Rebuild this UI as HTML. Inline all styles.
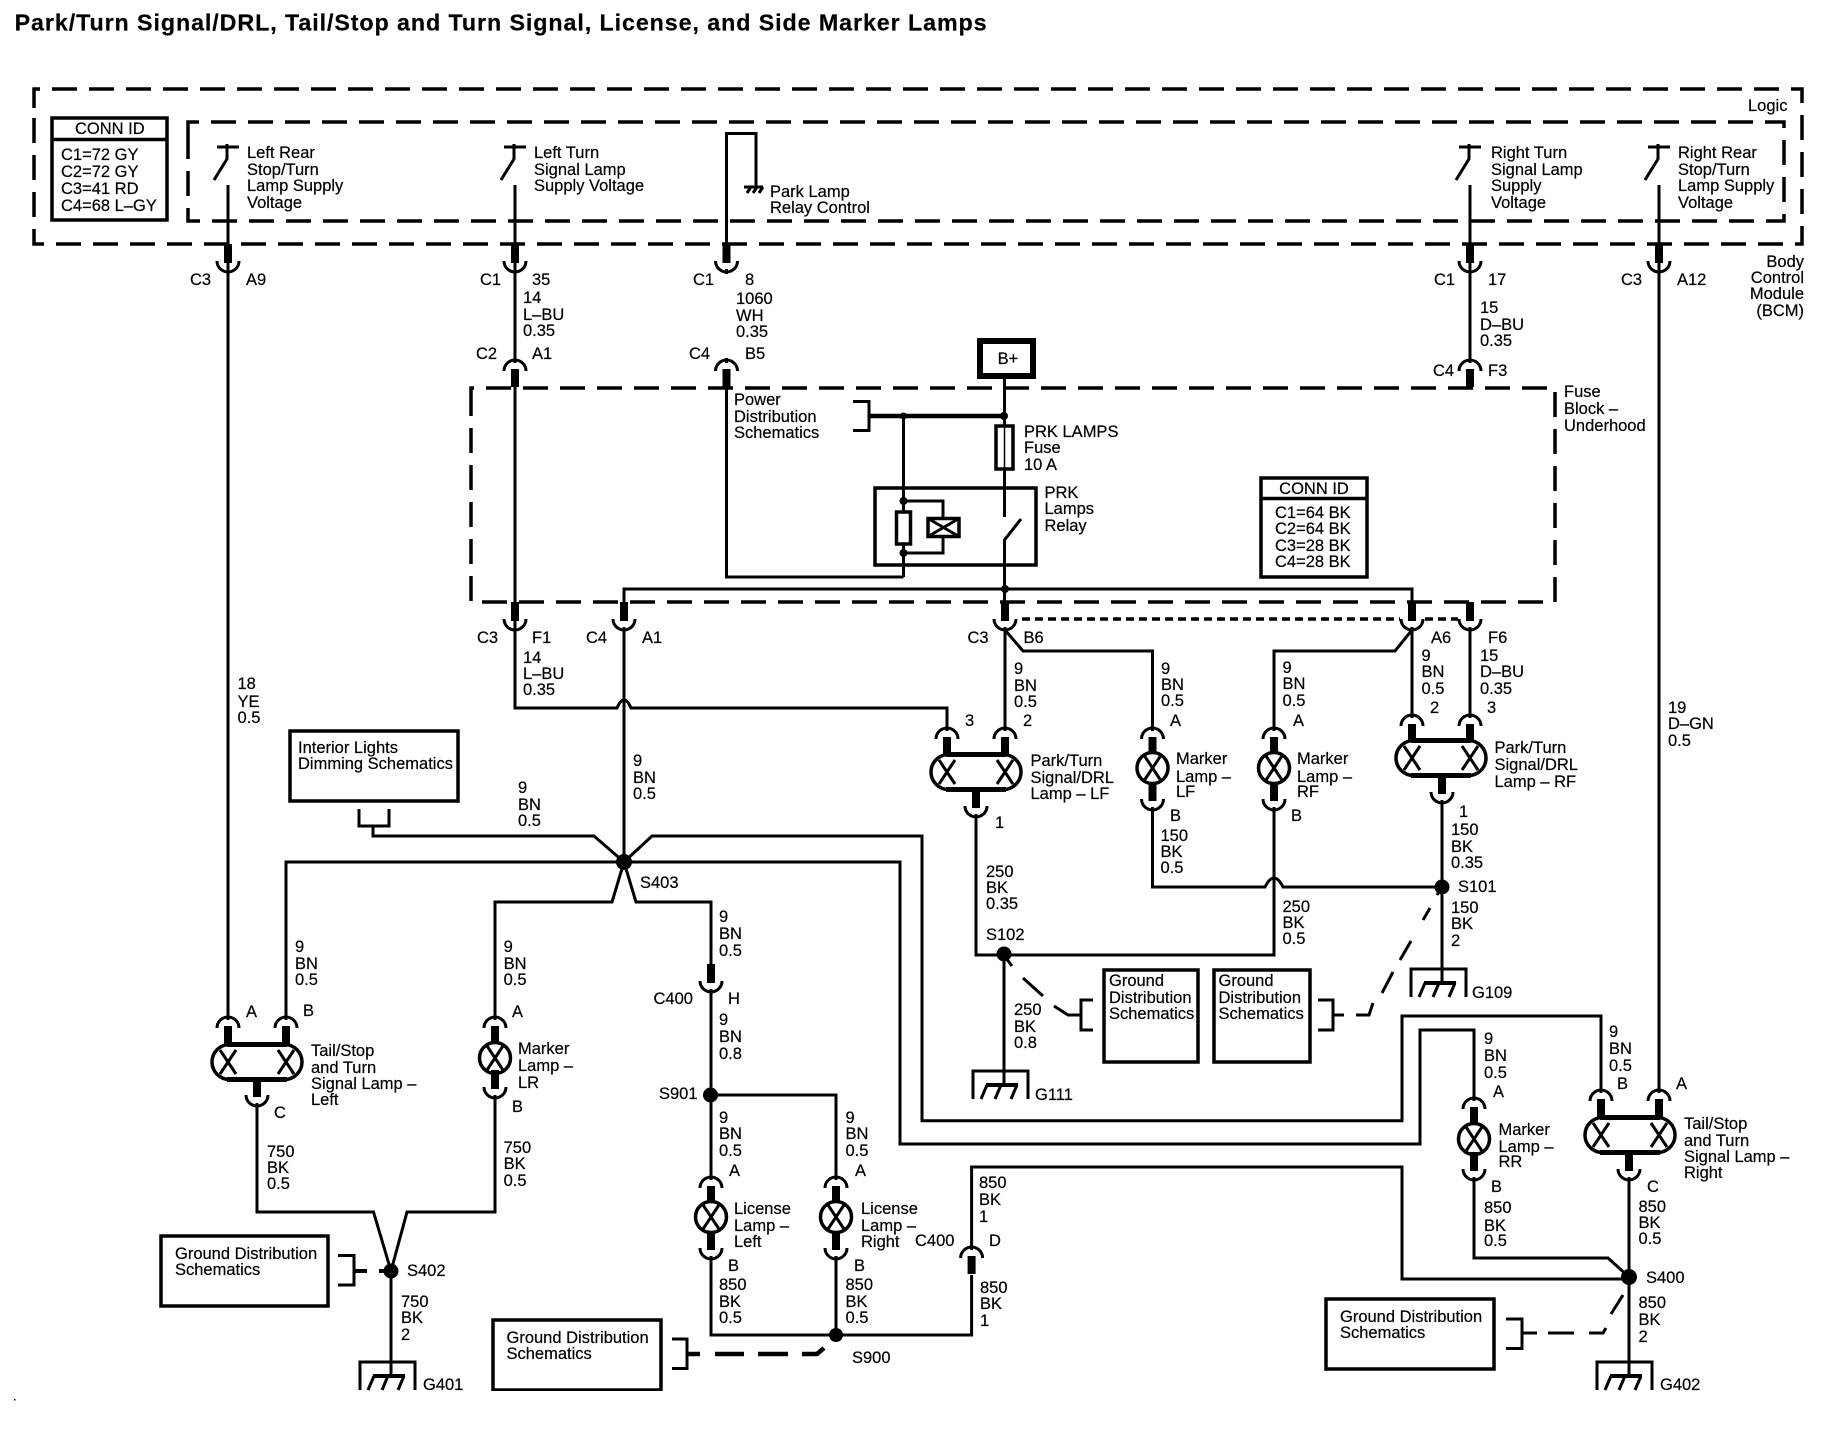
<!DOCTYPE html>
<html><head><meta charset="utf-8"><title>Park/Turn Signal Schematic</title>
<style>
html,body{margin:0;padding:0;background:#fff;width:1830px;height:1440px;overflow:hidden}
svg{display:block}
text{font-family:"Liberation Sans",sans-serif;font-size:16.5px;fill:#000;stroke:#000;stroke-width:.2}
.w{fill:none;stroke:#000;stroke-width:3}
.d{fill:none;stroke:#000;stroke-width:3.5;stroke-dasharray:25 12}
.b{fill:#fff;stroke:#000;stroke-width:3.5}
</style></head><body>
<svg xmlns="http://www.w3.org/2000/svg" width="1830" height="1440" viewBox="0 0 1830 1440">
<defs>
<g id="cup"><path class="w" d="M-11-11C-11-4-5 0 0 0C5 0 11-4 11-11"/><path d="M0-28V-9" stroke="#000" stroke-width="8"/><path d="M0-3V2" stroke="#000" stroke-width="3"/></g>
<g id="cap"><path class="w" d="M-11 11C-11 4-5 0 0 0C5 0 11 4 11 11"/><path d="M0 9V27" stroke="#000" stroke-width="8"/><path d="M0-2V3" stroke="#000" stroke-width="3"/></g>
<g id="lamp"><rect x="-45" y="-17.5" width="90" height="35" rx="17.5" fill="#fff" stroke="#000" stroke-width="3.5"/><path d="M-30-17.5H30M-30 17.5H30" stroke="#000" stroke-width="5"/><path class="w" d="M-37-12L-21 12M-21-12L-37 12M21-12L37 12M37-12L21 12"/></g>
<g id="mark"><circle r="15.5" fill="#fff" stroke="#000" stroke-width="3.5"/><path class="w" d="M-8-12L8 12M8-12L-8 12"/></g>
<g id="gnd"><path class="w" d="M-31 14V-14H24V14" stroke-width="3.5"/><path d="M-18 0H14" stroke="#000" stroke-width="4"/><path class="w" d="M-17 0L-23 14M-3 0L-9 14M13 0L7 14"/></g>
<g id="sw"><path class="w" d="M-11 0H11M-1-3V12L-14 33"/></g>
</defs>

<text x="14.6" y="30.5" style="font-size:23.25px;font-weight:bold" textLength="972" lengthAdjust="spacing">Park/Turn Signal/DRL, Tail/Stop and Turn Signal, License, and Side Marker Lamps</text>

<!-- dashed boundaries -->
<path class="d" d="M34 108V89H1802V244H34V108"/>
<path class="d" d="M188 136V122H1784V221H188V136"/>
<path class="d" d="M471 410V388H1555V602H471V410"/>

<!-- BCM conn id -->
<rect class="b" x="52" y="118" width="115" height="102"/><path d="M52 139.5H167" stroke="#000" stroke-width="3.5"/>
<text x="75" y="134">CONN ID</text>
<text x="61" y="160">C1=72 GY</text><text x="61" y="177">C2=72 GY</text><text x="61" y="194">C3=41 RD</text><text x="61" y="211">C4=68 L–GY</text>
<text x="1748" y="111">Logic</text>

<!-- switches -->
<use href="#sw" x="228" y="147"/><use href="#sw" x="515" y="147"/><use href="#sw" x="1470" y="147"/><use href="#sw" x="1659" y="147"/>
<text x="247" y="158">Left Rear</text><text x="247" y="175">Stop/Turn</text><text x="247" y="191">Lamp Supply</text><text x="247" y="208">Voltage</text>
<text x="534" y="158">Left Turn</text><text x="534" y="175">Signal Lamp</text><text x="534" y="191">Supply Voltage</text>
<text x="1491" y="158">Right Turn</text><text x="1491" y="175">Signal Lamp</text><text x="1491" y="191">Supply</text><text x="1491" y="208">Voltage</text>
<text x="1678" y="158">Right Rear</text><text x="1678" y="175">Stop/Turn</text><text x="1678" y="191">Lamp Supply</text><text x="1678" y="208">Voltage</text>
<text x="770" y="197">Park Lamp</text><text x="770" y="213">Relay Control</text>
<text x="1804" y="267" text-anchor="end">Body</text><text x="1804" y="283" text-anchor="end">Control</text><text x="1804" y="299" text-anchor="end">Module</text><text x="1804" y="316" text-anchor="end">(BCM)</text>

<!-- wires -->
<g class="w">
<path d="M228 185V1017"/>
<path d="M515 185V360"/>
<path d="M515 387V708H617Q624 692 631 708H947V728"/>
<path d="M726.5 246V133.5H756V187"/>
<path d="M744 187H763M751 187L747 193M757 187L753 193M763 187L759 193"/>
<path d="M726.5 387V577H903.5"/>
<path d="M1470 185V360M1470 630V715M1659 185V1090"/>
<path d="M624 630V862M624 602V589H1412V602"/>
<path d="M1004.5 378V425M1004.5 469V517M1021 519L1004.5 540V602M1005 630V728M1005 630L1023 651H1152.5V728M1412 630L1395 651H1274V728M1412 630V715"/>
<path d="M1152.5 810V887H1265Q1274 869 1283 887H1442M1274 810V955H976V817M1442 803V983M1004 955V1085"/>
<path d="M359 809V826H389V809M373 826V836H594L624 862L652 836H922V1120.7H1402V1016H1601V1090"/>
<path d="M286 1017V862H900V1144H1420V1030H1474V1098"/>
<path d="M495 1017V902H612L624 862L636 902H711V965M711 992V1177M711 1095H836V1177"/>
<path d="M711 1259V1335H971.6V1275M971.6 1247V1167H1402V1279H1629M836 1259V1335"/>
<path d="M1474 1180V1258H1608L1629 1277M1629 1180V1376"/>
<path d="M257 1106V1212H373.5L391 1271L407 1212H495V1098M391 1271V1376"/>
<path d="M903.5 416V577M903.5 501H943V518M903.5 553H943V537"/>
</g>
<path d="M869 416H1004" stroke="#000" stroke-width="4.5"/>
<path class="w" d="M853 401.5H869V430.5H853"/>

<!-- connectors top -->
<use href="#cup" x="228" y="272"/><use href="#cup" x="515" y="272"/><use href="#cup" x="726.5" y="272"/><use href="#cup" x="1470" y="272"/><use href="#cup" x="1659" y="272"/>
<use href="#cap" x="515" y="360"/><use href="#cap" x="726.5" y="360"/><use href="#cap" x="1470" y="360"/>
<use href="#cup" x="515" y="630"/><use href="#cup" x="624" y="630"/><use href="#cup" x="1005" y="630"/><use href="#cup" x="1412" y="630"/><use href="#cup" x="1470" y="630"/>
<path d="M1022 619H1400M1425 619H1458" fill="none" stroke="#000" stroke-width="3.5" stroke-dasharray="8 5"/>

<text x="190" y="285">C3</text><text x="246" y="285">A9</text>
<text x="480" y="285">C1</text><text x="532" y="285">35</text>
<text x="523" y="303">14</text><text x="523" y="320">L–BU</text><text x="523" y="336">0.35</text>
<text x="476" y="359">C2</text><text x="532" y="359">A1</text>
<text x="693" y="285">C1</text><text x="745" y="285">8</text>
<text x="736" y="304">1060</text><text x="736" y="321">WH</text><text x="736" y="337">0.35</text>
<text x="689" y="359">C4</text><text x="745" y="359">B5</text>
<text x="1434" y="285">C1</text><text x="1488" y="285">17</text>
<text x="1480" y="313">15</text><text x="1480" y="330">D–BU</text><text x="1480" y="346">0.35</text>
<text x="1433" y="376">C4</text><text x="1488" y="376">F3</text>
<text x="1621" y="285">C3</text><text x="1677" y="285">A12</text>

<!-- fuse block internals -->
<rect x="980" y="341" width="53" height="35" fill="#fff" stroke="#000" stroke-width="6"/>
<text x="1008" y="364" text-anchor="middle">B+</text>
<rect x="996" y="426" width="17" height="43" fill="#fff" stroke="#000" stroke-width="3.5"/><path d="M1004.5 426V469" stroke="#000" stroke-width="1.5"/>
<circle cx="1004" cy="416" r="4"/><circle cx="903.5" cy="416" r="3.5"/>
<rect x="875" y="488" width="161" height="77" fill="none" stroke="#000" stroke-width="3.5"/>
<rect x="896.5" y="512" width="14" height="32" fill="#fff" stroke="#000" stroke-width="3.5"/>
<circle cx="903.5" cy="501" r="4"/><circle cx="903.5" cy="553" r="4"/>
<rect x="928" y="518.5" width="31" height="18" fill="#fff" stroke="#000" stroke-width="3.5"/><path class="w" d="M928 518.5L959 536.5M959 518.5L928 536.5"/>
<circle cx="1005" cy="589" r="4"/>
<rect class="b" x="1261" y="478" width="106" height="99"/><path d="M1261 498.5H1367" stroke="#000" stroke-width="3.5"/>
<text x="1314" y="494" text-anchor="middle">CONN ID</text>
<text x="1275" y="518">C1=64 BK</text><text x="1275" y="534">C2=64 BK</text><text x="1275" y="551">C3=28 BK</text><text x="1275" y="567">C4=28 BK</text>
<text x="734" y="405">Power</text><text x="734" y="422">Distribution</text><text x="734" y="438">Schematics</text>
<text x="1024" y="437">PRK LAMPS</text><text x="1024" y="453">Fuse</text><text x="1024" y="470">10 A</text>
<text x="1044.5" y="498">PRK</text><text x="1044.5" y="514">Lamps</text><text x="1044.5" y="531">Relay</text>
<text x="1564" y="397">Fuse</text><text x="1564" y="414">Block –</text><text x="1564" y="431">Underhood</text>

<text x="477" y="643">C3</text><text x="532" y="643">F1</text>
<text x="523" y="663">14</text><text x="523" y="679">L–BU</text><text x="523" y="695">0.35</text>
<text x="586" y="643">C4</text><text x="642" y="643">A1</text>
<text x="967.5" y="643">C3</text><text x="1023.5" y="643">B6</text>
<text x="1431" y="643">A6</text><text x="1488" y="643">F6</text>
<text x="237.5" y="689">18</text><text x="237.5" y="707">YE</text><text x="237.5" y="723">0.5</text>
<text x="633" y="766">9</text><text x="633" y="783">BN</text><text x="633" y="799">0.5</text>
<text x="1668" y="713">19</text><text x="1668" y="729">D–GN</text><text x="1668" y="746">0.5</text>

<!-- front lamps -->
<use href="#cap" x="947" y="728"/><use href="#cap" x="1005" y="728"/><use href="#lamp" x="976" y="772"/><use href="#cup" x="976" y="817"/>
<use href="#cap" x="1412" y="715"/><use href="#cap" x="1470" y="715"/><use href="#lamp" x="1441" y="758"/><use href="#cup" x="1442" y="803"/>
<use href="#cap" x="1152.5" y="728"/><use href="#mark" x="1152.5" y="768"/><use href="#cup" x="1152.5" y="810"/>
<use href="#cap" x="1274" y="728"/><use href="#mark" x="1274" y="768"/><use href="#cup" x="1274" y="810"/>

<text x="1014" y="674">9</text><text x="1014" y="691">BN</text><text x="1014" y="707">0.5</text>
<text x="1023" y="726">2</text><text x="965" y="726">3</text><text x="995" y="828">1</text>
<text x="1030.5" y="766">Park/Turn</text><text x="1030.5" y="783">Signal/DRL</text><text x="1030.5" y="799">Lamp – LF</text>
<text x="1161" y="674">9</text><text x="1161" y="690">BN</text><text x="1161" y="706">0.5</text><text x="1170" y="726">A</text>
<text x="1176" y="764">Marker</text><text x="1176" y="782">Lamp –</text><text x="1176" y="797">LF</text>
<text x="1170" y="821">B</text><text x="1160.5" y="841">150</text><text x="1160.5" y="857">BK</text><text x="1160.5" y="873">0.5</text>
<text x="1282.5" y="673">9</text><text x="1282.5" y="689">BN</text><text x="1282.5" y="706">0.5</text><text x="1293" y="726">A</text>
<text x="1297" y="764">Marker</text><text x="1297" y="782">Lamp –</text><text x="1297" y="797">RF</text>
<text x="1291" y="821">B</text><text x="1282.5" y="912">250</text><text x="1282.5" y="928">BK</text><text x="1282.5" y="944">0.5</text>
<text x="1421.5" y="661">9</text><text x="1421.5" y="677">BN</text><text x="1421.5" y="694">0.5</text><text x="1430" y="713">2</text>
<text x="1480" y="661">15</text><text x="1480" y="677">D–BU</text><text x="1480" y="694">0.35</text><text x="1487" y="713">3</text>
<text x="1494.5" y="753">Park/Turn</text><text x="1494.5" y="770">Signal/DRL</text><text x="1494.5" y="787">Lamp – RF</text>
<text x="1459" y="817">1</text><text x="1451" y="835">150</text><text x="1451" y="852">BK</text><text x="1451" y="868">0.35</text>
<text x="986" y="877">250</text><text x="986" y="893">BK</text><text x="986" y="909">0.35</text><text x="986" y="940">S102</text>

<circle cx="1004" cy="954" r="7.5"/><circle cx="1442" cy="887" r="7.5"/>
<text x="1458" y="892">S101</text><text x="1451" y="913">150</text><text x="1451" y="929">BK</text><text x="1451" y="946">2</text>
<text x="1014" y="1015">250</text><text x="1014" y="1032">BK</text><text x="1014" y="1048">0.8</text>
<use href="#gnd" x="1004" y="1085"/><text x="1035" y="1100">G111</text>
<use href="#gnd" x="1442" y="983"/><text x="1472" y="998">G109</text>

<!-- ground boxes top -->
<rect x="1104" y="970" width="94" height="92" class="b"/><rect x="1214" y="970" width="96" height="92" class="b"/>
<text x="1109" y="986">Ground</text><text x="1109" y="1003">Distribution</text><text x="1109" y="1019">Schematics</text>
<text x="1218.5" y="986">Ground</text><text x="1218.5" y="1003">Distribution</text><text x="1218.5" y="1019">Schematics</text>
<path class="w" d="M1093 1000H1081V1030H1093M1318 1000H1333V1030H1318"/>
<path d="M1006 958L1012 966M1023 978L1043 996M1054 1006L1068 1015H1081" fill="none" stroke="#000" stroke-width="3"/>
<path d="M1333 1015H1344M1356 1015H1369L1373 1003M1382 993L1393 972M1400 960L1411 941M1423 920L1430 908M1437 895L1440 890" fill="none" stroke="#000" stroke-width="3"/>

<!-- interior lights -->
<rect class="b" x="290" y="731" width="168" height="70"/>
<text x="298" y="753">Interior Lights</text><text x="298" y="769">Dimming Schematics</text>
<text x="518" y="793">9</text><text x="518" y="810">BN</text><text x="518" y="826">0.5</text>
<circle cx="624" cy="862" r="8"/><text x="640" y="888">S403</text>
<text x="719" y="922">9</text><text x="719" y="939">BN</text><text x="719" y="956">0.5</text>
<text x="295" y="952">9</text><text x="295" y="969">BN</text><text x="295" y="985">0.5</text>
<text x="503.6" y="952">9</text><text x="503.6" y="969">BN</text><text x="503.6" y="985">0.5</text>

<!-- rear left -->
<use href="#cap" x="228" y="1017"/><use href="#cap" x="286" y="1017"/><use href="#lamp" x="257" y="1062"/><use href="#cup" x="257" y="1106"/>
<use href="#cap" x="495" y="1017"/><use href="#mark" x="495" y="1058"/><use href="#cup" x="495" y="1098"/>
<text x="246" y="1017">A</text><text x="303" y="1016">B</text><text x="274" y="1118">C</text>
<text x="311" y="1056">Tail/Stop</text><text x="311" y="1073">and Turn</text><text x="311" y="1089">Signal Lamp –</text><text x="311" y="1105">Left</text>
<text x="512" y="1017">A</text><text x="512" y="1112">B</text>
<text x="518" y="1054">Marker</text><text x="518" y="1071">Lamp –</text><text x="518" y="1088">LR</text>
<text x="267" y="1157">750</text><text x="267" y="1173">BK</text><text x="267" y="1189">0.5</text>
<text x="503.6" y="1153">750</text><text x="503.6" y="1169">BK</text><text x="503.6" y="1186">0.5</text>
<circle cx="391" cy="1271" r="7.5"/><text x="407" y="1276">S402</text>
<rect class="b" x="161" y="1236" width="167" height="70"/>
<text x="175" y="1259">Ground Distribution</text><text x="175" y="1275">Schematics</text>
<path class="w" d="M338 1255.5H354V1285H338"/>
<path d="M354 1271H367M379 1271H389" stroke="#000" stroke-width="4"/>
<text x="401" y="1307">750</text><text x="401" y="1323">BK</text><text x="401" y="1340">2</text>
<use href="#gnd" x="391" y="1376"/><text x="423" y="1390">G401</text>

<!-- license -->
<use href="#cup" x="711" y="992"/>
<text x="653.5" y="1004">C400</text><text x="728" y="1004">H</text>
<text x="719" y="1025">9</text><text x="719" y="1042">BN</text><text x="719" y="1059">0.8</text>
<circle cx="710.5" cy="1095" r="7.5"/><text x="659" y="1099">S901</text>
<text x="719" y="1123">9</text><text x="719" y="1139">BN</text><text x="719" y="1156">0.5</text>
<text x="845.5" y="1123">9</text><text x="845.5" y="1139">BN</text><text x="845.5" y="1156">0.5</text>
<use href="#cap" x="711" y="1177"/><use href="#mark" x="711" y="1217"/><use href="#cup" x="711" y="1259"/>
<use href="#cap" x="836" y="1177"/><use href="#mark" x="836" y="1217"/><use href="#cup" x="836" y="1259"/>
<text x="729" y="1176">A</text><text x="728" y="1271">B</text><text x="855" y="1176">A</text><text x="854" y="1271">B</text>
<text x="734" y="1214">License</text><text x="734" y="1231">Lamp –</text><text x="734" y="1247">Left</text>
<text x="861" y="1214">License</text><text x="861" y="1231">Lamp –</text><text x="861" y="1247">Right</text>
<text x="719" y="1290">850</text><text x="719" y="1307">BK</text><text x="719" y="1323">0.5</text>
<text x="845.5" y="1290">850</text><text x="845.5" y="1307">BK</text><text x="845.5" y="1323">0.5</text>
<circle cx="836" cy="1335" r="7"/><text x="852" y="1363">S900</text>
<rect class="b" x="493" y="1320" width="168" height="70"/>
<text x="506.5" y="1343">Ground Distribution</text><text x="506.5" y="1359">Schematics</text>
<path class="w" d="M672 1339H687V1368.5H672"/>
<path d="M687 1354H700M715 1354H744M758 1354H788M802 1354H817L824 1348" fill="none" stroke="#000" stroke-width="4.5"/>
<use href="#cap" x="971.6" y="1247"/>
<text x="979" y="1188">850</text><text x="979" y="1205">BK</text><text x="979" y="1222">1</text>
<text x="915" y="1246">C400</text><text x="989" y="1246">D</text>
<text x="980" y="1293">850</text><text x="980" y="1309">BK</text><text x="980" y="1326">1</text>

<!-- rear right -->
<use href="#cap" x="1474" y="1098"/><use href="#mark" x="1474" y="1139"/><use href="#cup" x="1474" y="1180"/>
<use href="#cap" x="1601" y="1090"/><use href="#cap" x="1659" y="1090"/><use href="#lamp" x="1630" y="1135"/><use href="#cup" x="1629" y="1180"/>
<text x="1484" y="1044">9</text><text x="1484" y="1061">BN</text><text x="1484" y="1078">0.5</text>
<text x="1493" y="1097">A</text><text x="1491" y="1192">B</text>
<text x="1498.5" y="1135">Marker</text><text x="1498.5" y="1152">Lamp –</text><text x="1498.5" y="1167">RR</text>
<text x="1484" y="1213">850</text><text x="1484" y="1231">BK</text><text x="1484" y="1246">0.5</text>
<text x="1609" y="1037">9</text><text x="1609" y="1054">BN</text><text x="1609" y="1071">0.5</text>
<text x="1617" y="1089">B</text><text x="1676" y="1089">A</text><text x="1647" y="1192">C</text>
<text x="1684" y="1129">Tail/Stop</text><text x="1684" y="1146">and Turn</text><text x="1684" y="1162">Signal Lamp –</text><text x="1684" y="1178">Right</text>
<text x="1638.5" y="1212">850</text><text x="1638.5" y="1228">BK</text><text x="1638.5" y="1244">0.5</text>
<circle cx="1629" cy="1277" r="8"/><text x="1646" y="1283">S400</text>
<text x="1638.5" y="1308">850</text><text x="1638.5" y="1325">BK</text><text x="1638.5" y="1342">2</text>
<rect class="b" x="1326" y="1299" width="168" height="70"/>
<text x="1340" y="1322">Ground Distribution</text><text x="1340" y="1338">Schematics</text>
<path class="w" d="M1506 1319H1522V1348.5H1506"/>
<path d="M1522 1333H1537M1548 1333H1574M1589 1333H1603L1606 1328M1611 1314L1623 1295" fill="none" stroke="#000" stroke-width="3"/>
<use href="#gnd" x="1628" y="1376"/><text x="1660" y="1390">G402</text>
<rect x="0" y="1391" width="1830" height="6" fill="#fff"/>
<rect x="14" y="1399" width="1.5" height="1.5"/>
</svg>
</body></html>
